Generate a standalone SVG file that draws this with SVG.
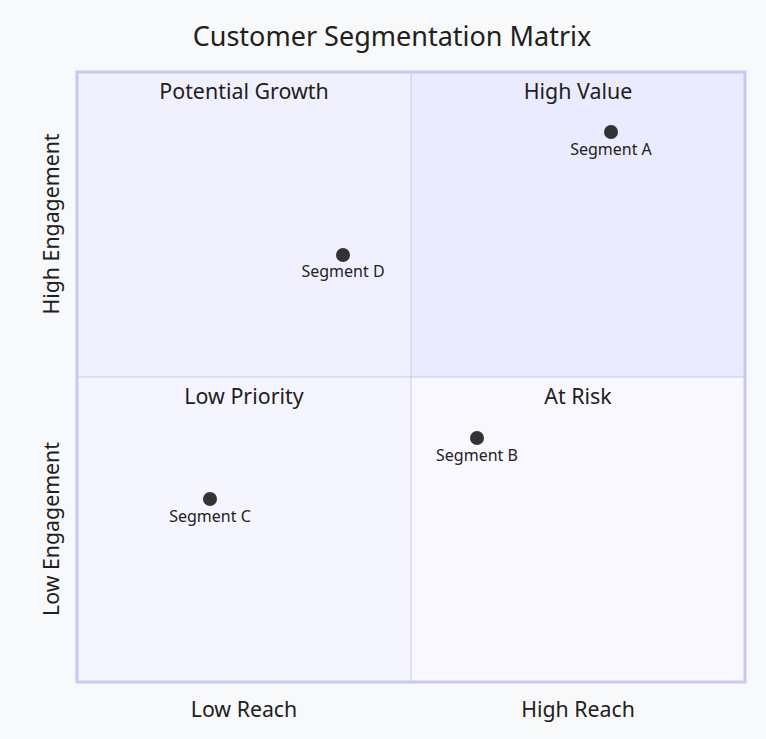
<svg xmlns="http://www.w3.org/2000/svg" width="766" height="739" viewBox="0 0 766 739">
<style>
text{font-family:"Noto Sans","Open Sans","DejaVu Sans",sans-serif;fill:#1f2020;}
.title{font-size:27px;text-anchor:middle;}
.ql{font-size:21.4px;text-anchor:middle;}
.ax{font-size:21.3px;text-anchor:middle;}
.pl{font-size:16px;text-anchor:middle;fill:#222;}
.pt{fill:#333333;}
.inner{stroke:#c8c8f0;stroke-width:1;}
</style>
<rect x="0" y="0" width="766" height="739" fill="#f8f9fb"/>
<text class="title" x="392" y="46">Customer Segmentation Matrix</text>
<g id="quadrant-high-value">
<rect x="411" y="72" width="334" height="305" fill="#ebebff"/>
<text class="ql" x="578" y="99">High Value</text>
</g>
<g id="quadrant-potential-growth">
<rect x="77" y="72" width="334" height="305" fill="#f1f0ff"/>
<text class="ql" x="244" y="99">Potential Growth</text>
</g>
<g id="quadrant-low-priority">
<rect x="77" y="377" width="334" height="305" fill="#f5f5ff"/>
<text class="ql" x="244" y="404">Low Priority</text>
</g>
<g id="quadrant-at-risk">
<rect x="411" y="377" width="334" height="305" fill="#f9f8ff"/>
<text class="ql" x="578" y="404">At Risk</text>
</g>
<g id="grid">
<line class="inner" x1="411" y1="72" x2="411" y2="682"/>
<line class="inner" x1="77" y1="377" x2="745" y2="377"/>
<rect x="77" y="72" width="668" height="610" fill="none" stroke="#c8c8f0" stroke-width="3"/>
</g>
<g id="axis-labels">
<text class="ax" x="244" y="717">Low Reach</text>
<text class="ax" x="578" y="717">High Reach</text>
<text class="ax" transform="translate(59,224) rotate(-90)">High Engagement</text>
<text class="ax" transform="translate(59,529) rotate(-90)">Low Engagement</text>
</g>
<g id="segment-a">
<circle class="pt" cx="611" cy="132" r="7"/>
<text class="pl" x="611" y="155">Segment A</text>
</g>
<g id="segment-b">
<circle class="pt" cx="477" cy="438" r="7"/>
<text class="pl" x="477" y="461">Segment B</text>
</g>
<g id="segment-c">
<circle class="pt" cx="210" cy="499" r="7"/>
<text class="pl" x="210" y="522">Segment C</text>
</g>
<g id="segment-d">
<circle class="pt" cx="343" cy="255" r="7"/>
<text class="pl" x="343" y="277">Segment D</text>
</g>
</svg>
